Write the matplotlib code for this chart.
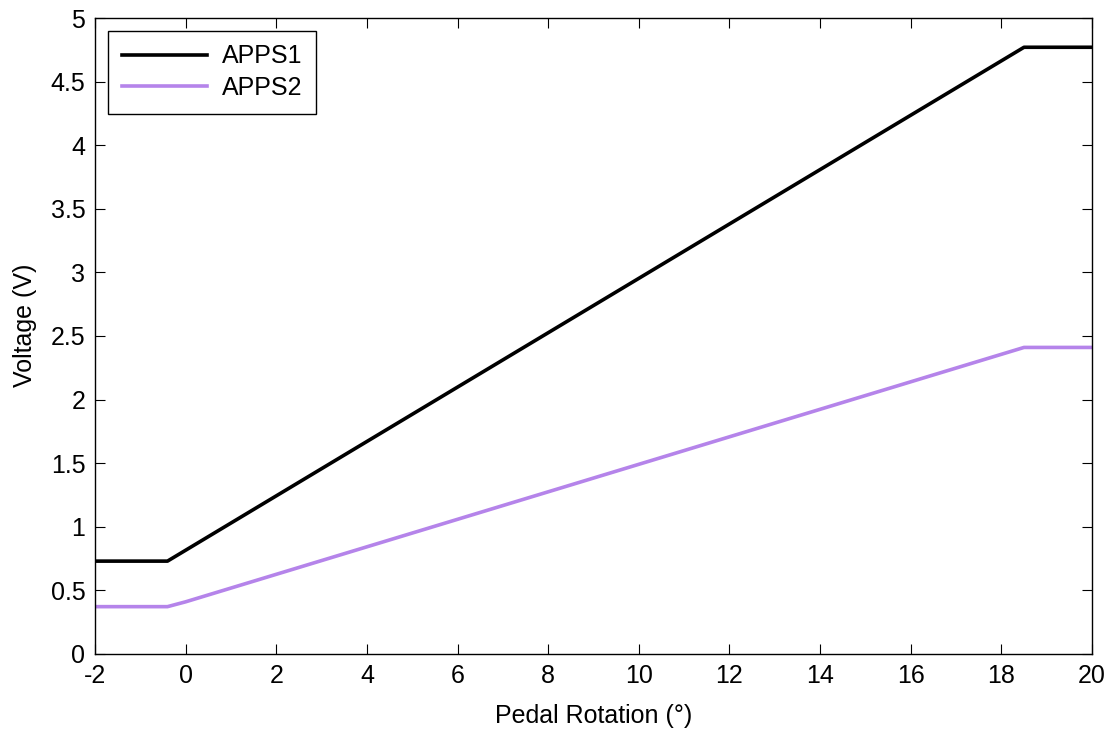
import matplotlib
matplotlib.use("Agg")
import matplotlib.pyplot as plt

# Breakpoints
apps1_x = [-2, -0.4, 18.5, 20]
apps1_y = [0.73, 0.73, 4.77, 4.77]
apps2_x = [-2, -0.4, 0.0, 18.5, 20]
apps2_y = [0.372, 0.372, 0.41, 2.41, 2.41]

xticks = list(range(-2, 21, 2))
yticks = [0, 0.5, 1, 1.5, 2, 2.5, 3, 3.5, 4, 4.5, 5]
ytick_labels = ['0', '0.5', '1', '1.5', '2', '2.5', '3', '3.5', '4', '4.5', '5']

plt.rcParams['font.family'] = ['Liberation Sans', 'DejaVu Sans']

fig = plt.figure(figsize=(11.2, 7.32), dpi=100)
ax = fig.add_axes([0.0848, 0.1066, 0.8902, 0.8688])

ax.plot(apps1_x, apps1_y, color='black', linewidth=2.6, label='APPS1')
ax.plot(apps2_x, apps2_y, color='#B584EA', linewidth=2.6, label='APPS2')

ax.set_xlim(-2, 20)
ax.set_ylim(0, 5)
ax.set_xticks(xticks)
ax.set_yticks(yticks)
ax.set_xticklabels([str(t) for t in xticks])
ax.set_yticklabels(ytick_labels)
ax.tick_params(direction='in', top=True, right=True, labelsize=18, length=7, width=0.8)
ax.tick_params(axis='x', pad=7)
ax.tick_params(axis='y', pad=7)
for s in ax.spines.values():
    s.set_linewidth(1.0)

ax.set_xlabel('Pedal Rotation (°)', fontsize=18, labelpad=12)
ax.set_ylabel('Voltage (V)', fontsize=18)
ax.yaxis.set_label_coords(-0.058, 0.517)

leg = ax.legend(loc='upper left', fontsize=18, fancybox=False, framealpha=1,
                edgecolor='black', handlelength=3.4, borderpad=0.55,
                labelspacing=0.3, handletextpad=0.6, borderaxespad=0,
                bbox_to_anchor=(0.013, 0.98))
leg.get_frame().set_linewidth(1.0)

fig.savefig('out.png', dpi=100)
